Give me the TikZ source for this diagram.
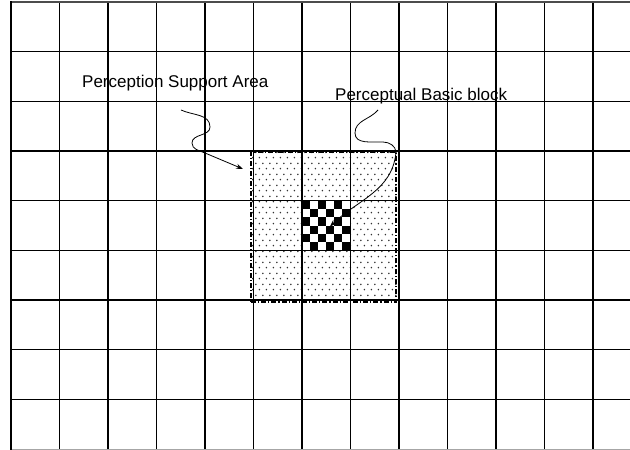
\documentclass[tikz,border=0pt]{standalone}
\usepackage{fontspec}
\setmainfont{Liberation Sans}
\usetikzlibrary{arrows.meta, patterns.meta}

%% stipple used for the support area
\tikzdeclarepattern{
  name=stipple,
  type=uncolored,
  bottom left={(0pt,0pt)},
  top right={(7.4pt,10.6pt)},
  tile size={(7.4pt,10.6pt)},
  code={
    \fill (1.5pt,1.5pt) circle (0.9pt);
    \fill (5.2pt,6.8pt) circle (0.9pt);
  }
}

\begin{document}
\begin{tikzpicture}[
  x=1pt, y=1pt,
  font=\fontsize{17}{20}\selectfont,
  gridline/.style={line width=1.2pt, black},
  stipplefill/.style={pattern={stipple}, pattern color=black!80},
  dashdotbox/.style={draw, line width=1.2pt, dash pattern=on 5pt off 2pt on 1.2pt off 2pt,
                     minimum width=145pt, minimum height=150pt, inner sep=0pt},
  pointer/.style={-{Stealth[length=7pt, width=5pt]}, line width=0.8pt},
  label/.style={anchor=base west, inner sep=0pt}
]

%% Parameters
\def\dx{48.5}  % cell width
\def\dy{49.67} % cell height
\def\xo{11}    % left border
\def\yt{448}   % top border

\useasboundingbox (0,0) rectangle (630,450);

%% ---- Support area (stippled) ----
\fill[stipplefill] (252,149) rectangle (397,299);

%% ---- Basic block (checkerboard) ----
\fill[white] (\xo+6*\dx, \yt-4*\dy) rectangle ++(\dx, -\dy);
\foreach \i in {0,...,5}
  \foreach \j in {0,...,5}{
    \pgfmathparse{int(mod(\i+\j,2))}
    \ifnum\pgfmathresult=0
      \fill (\xo+6*\dx+\i*\dx/6, \yt-4*\dy-\j*\dy/6) rectangle ++(\dx/6, -\dy/6);
    \fi
  }

%% ---- Grid ----
\foreach \i in {1,...,12}
  \draw[gridline] (\xo+\i*\dx, 1) -- (\xo+\i*\dx, \yt);
\foreach \j in {1,...,8}
  \draw[gridline] (\xo, \yt-\j*\dy) -- (630, \yt-\j*\dy);
\draw[line width=2.4pt, black!70] (\xo, \yt) -- (630, \yt);
\draw[line width=0.8pt, black!35] (\xo, 1) -- (630, 1);
\draw[line width=2.6pt] (\xo, 0) -- (\xo, \yt+1.2);

%% ---- Support area outline ----
\node[dashdotbox] (support) at (323.5, 223) {};

%% ---- Labels ----
\node[label] (psalabel) at (82, 362.5) {Perception Support Area};
\node[label] (pbblabel) at (335, 349) {Perceptual Basic block};

%% ---- Pointers ----
\coordinate (psatail) at (181, 340);
\coordinate (psahead) at (243, 281);
\coordinate (pbbtail) at (378, 340);
\coordinate (pbbhead) at (330, 223.5);

\draw[pointer] (psatail) to[out=-25, in=90] (210, 323)
  to[out=-90, in=90] (192, 307)
  to[out=-90, in=157] (205, 297) -- (psahead);
\draw[pointer] (pbbtail) to[out=-130, in=90] (355, 317)
  to[out=-90, in=178] (383, 308)
  to[out=-2, in=95] (396, 298)
  to[out=-95, in=44] (pbbhead);

\end{tikzpicture}
\end{document}
